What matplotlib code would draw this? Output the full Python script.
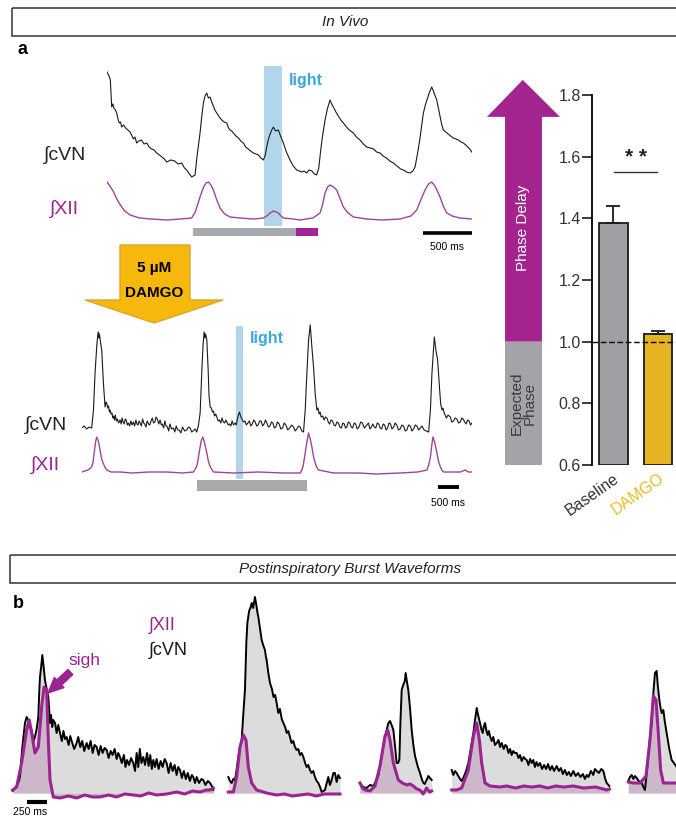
import numpy as np
import matplotlib
matplotlib.use("Agg")
import matplotlib.pyplot as plt
from matplotlib.patches import Rectangle, Polygon

plt.rcParams['font.family'] = ['Liberation Sans', 'DejaVu Sans']

# ---- panel a, baseline recording (t in ms, amplitude a.u.) ----
top_cvn = [(0,108),(20,104),(34,100),(40,88),(48,73),(60,76),(70,72),(85,70),(99,67),(112,61),(125,57),
           (137,58),(150,53),(170,55),(190,52),(212,50),(235,48),(250,45),(270,41),(285,43),(303,37),
           (325,39),(350,40),(378,36),(405,37),(430,33),(455,31),(480,30),(507,27),(535,25),(560,23),
           (585,21),(609,18),(650,20),(690,19),(725,16),(762,17),(790,12),(813,10),(840,6),(864,3),
           (880,4),(898,5),(920,25),(949,47),(965,62),(983,77),(1000,84),(1017,87),(1034,82),(1051,83),
           (1068,78),(1085,74),(1100,70),(1119,67),(1145,63),(1170,60),(1195,58),(1221,57),(1240,52),
           (1255,50),(1272,49),(1289,47),(1315,44),(1340,42),(1365,39),(1391,37),(1415,33),(1440,31),
           (1465,29),(1493,27),(1520,26),(1545,25),(1570,22),(1595,20),(1612,24),(1629,33),(1645,40),
           (1660,45),(1680,50),(1697,53),(1720,49),(1748,50),(1770,44),(1799,37),(1830,28),(1867,20),
           (1900,14),(1935,10),(1960,9),(1990,8),(2010,9),(2037,7),(2060,10),(2090,9),(2115,6),
           (2139,5),(2160,12),(2180,30),(2200,45),(2224,60),(2250,72),(2275,80),(2292,76),(2309,73),
           (2335,68),(2360,64),(2385,60),(2411,57),(2435,54),(2460,51),(2487,49),(2513,47),(2545,43),
           (2580,40),(2615,36),(2649,33),(2685,32),(2720,31),(2750,28),(2785,27),(2815,24),(2850,22),
           (2885,19),(2921,17),(2945,15),(2970,13),(2995,11),(3023,10),(3055,8),(3091,7),(3120,9),
           (3142,13),(3165,25),(3190,40),(3210,55),(3227,67),(3250,76),(3270,82),(3290,88),(3312,93),
           (3325,90),(3340,86),(3363,80),(3380,72),(3400,62),(3415,55),(3431,50),(3455,48),(3480,46),
           (3505,44),(3533,42),(3560,41),(3585,40),(3610,38),(3635,37),(3660,35),(3680,33),(3700,31),
           (3720,28)]
top_xii = [(0,38),(30,34),(68,28),(100,21),(136,15),(180,9),(235,5),(300,3),(337,2),(450,1),(609,0),
           (750,1),(864,2),(900,8),(949,23),(985,33),(1010,37),(1034,38),(1060,35),(1085,30),(1120,20),
           (1153,12),(1200,6),(1255,3),(1357,2),(1500,1),(1595,2),(1630,4),(1663,7),(1697,9),(1725,8),
           (1748,7),(1775,4),(1799,2),(1900,1),(1969,0),(2100,2),(2173,7),(2200,16),(2224,27),(2250,33),
           (2275,35),(2310,33),(2343,30),(2375,22),(2411,13),(2460,7),(2513,3),(2649,1),(2800,0),
           (2989,1),(3100,4),(3159,10),(3200,20),(3244,30),(3280,36),(3312,38),(3345,34),(3370,29),
           (3397,23),(3430,14),(3465,7),(3520,4),(3601,2),(3720,1)]
top_light = (1601, 1785)
top_stim = (877, 1928)
top_delay = (1928, 2152)

# ---- panel a, DAMGO recording ----
dam_cvn = [(0,2),(60,4),(120,1),(180,3),(238,2),(280,20),(318,57),(360,85),(380,94),(397,98),(410,92),
           (420,96),(440,90),(476,80),(500,60),(520,45),(556,23),(580,28),(600,26),(620,22),(640,24),
           (660,18),(675,20),(700,16),(720,17),(740,12),(760,14),(780,10),(800,15),(825,9),(850,11),
           (880,7),(913,10),(940,6),(960,12),(985,8),(1010,6),(1035,11),(1060,10),(1085,5),(1110,7),
           (1140,4),(1170,9),(1200,5),(1230,8),(1260,4),(1290,10),(1315,6),(1340,5),(1365,9),(1390,7),
           (1420,4),(1450,11),(1475,7),(1500,6),(1530,3),(1560,9),(1590,6),(1620,5),(1650,9),(1680,12),
           (1710,7),(1740,8),(1770,13),(1800,11),(1835,6),(1866,10),(1895,5),(1920,6),(1950,2),(1980,9),
           (2010,4),(2040,3),(2070,-1),(2100,6),(2140,1),(2184,2),(2215,-2),(2250,4),(2285,0),(2320,0),
           (2360,-3),(2400,3),(2450,-1),(2501,0),(2540,3),(2580,2),(2620,-2),(2650,-1),(2700,1),
           (2739,-2),(2780,5),(2819,17),(2860,60),(2890,86),(2914,98),(2935,92),(2950,96),(2978,90),
           (3010,60),(3030,35),(3057,23),(3085,22),(3110,18),(3135,19),(3160,14),(3190,16),(3216,13),
           (3250,9),(3280,10),(3310,7),(3340,12),(3370,8),(3400,7),(3430,10),(3454,8),(3490,5),(3520,6),
           (3550,4),(3580,9),(3615,5),(3652,7),(3680,5),(3700,10),(3730,15),(3756,18),(3780,14),
           (3800,12),(3825,10),(3851,8),(3885,9),(3920,5),(3955,7),(3990,9),(4025,4),(4060,6),
           (4095,10),(4130,8),(4165,4),(4200,5),(4235,9),(4270,9),(4305,4),(4340,6),(4375,10),(4407,7),
           (4445,3),(4480,4),(4515,8),(4550,7),(4585,2),(4620,3),(4660,8),(4700,6),(4740,1),(4780,2),
           (4820,7),(4860,5),(4905,0),(4950,2),(5000,5),(5042,3),(5080,-1),(5120,1),(5160,4),(5200,3),
           (5240,-1),(5280,-2),(5320,20),(5360,57),(5400,90),(5439,105),(5475,85),(5518,63),(5560,35),
           (5598,20),(5625,22),(5650,16),(5675,18),(5700,13),(5735,14),(5770,10),(5800,13),(5836,12),
           (5870,8),(5900,6),(5935,10),(5970,9),(6005,5),(6040,4),(6075,8),(6110,7),(6145,3),(6180,2),
           (6215,7),(6250,6),(6280,2),(6312,3),(6345,8),(6380,7),(6415,3),(6450,2),(6485,7),(6520,6),
           (6560,1),(6600,3),(6640,8),(6680,7),(6730,2),(6789,5),(6825,7),(6860,1),(6895,3),(6930,6),
           (6965,3),(7000,2),(7035,7),(7070,6),(7105,2),(7140,1),(7175,6),(7210,5),(7245,0),(7280,2),
           (7315,7),(7350,6),(7385,1),(7424,3),(7460,7),(7500,5),(7540,0),(7580,1),(7620,5),(7660,4),
           (7700,-1),(7740,0),(7780,5),(7820,4),(7860,-1),(7900,1),(7940,5),(7980,4),(8020,0),(8059,2),
           (8100,4),(8150,0),(8200,-1),(8258,-2),(8300,20),(8337,57),(8393,93),(8430,80),(8472,70),
           (8500,52),(8520,40),(8545,26),(8575,20),(8600,22),(8620,18),(8650,15),(8680,12),(8720,15),
           (8774,13),(8810,8),(8850,9),(8890,12),(8930,11),(8970,7),(9012,8),(9045,12),(9080,11),
           (9115,8),(9150,6),(9185,10),(9220,9),(9255,5),(9290,7)]
dam_xii = [(0,0),(150,2),(238,5),(270,10),(300,20),(330,30),(357,35),(380,33),(400,30),(437,22),
           (470,14),(500,10),(550,5),(596,2),(700,0),(913,0),(1200,-1),(1600,0),(2025,0),(2400,-1),
           (2660,0),(2730,5),(2760,10),(2790,18),(2819,25),(2850,32),(2882,35),(2920,30),(2978,19),
           (3010,12),(3050,6),(3090,3),(3137,0),(3613,-1),(4200,0),(4800,-1),(5201,-1),(5240,2),
           (5270,6),(5320,19),(5360,30),(5399,39),(5440,33),(5479,25),(5515,16),(5550,10),(5590,5),
           (5637,2),(5995,-1),(6600,-1),(7000,-2),(7583,-1),(8000,0),(8218,2),(8260,7),(8300,15),
           (8330,26),(8361,35),(8400,30),(8456,19),(8490,11),(8530,6),(8570,2),(8615,0),(9012,0),
           (9131,2),(9200,0),(9290,0)]
dam_light = (3672, 3839)
dam_stim = (2746, 5364)

# ---- phase bar chart ----
groups = ['Baseline', 'DAMGO']
phase_mean = [1.385, 1.025]
phase_sem = [0.055, 0.008]

# ---- panel b, postinspiratory burst waveforms ----
b_cvn = [
    [(0,2),(8,3),(42,6),(70,10),(92,16),(120,45),(154,70),(175,76),(196,73),(215,66),(238,63),(260,52),
     (279,56),(300,64),(321,76),(332,100),(342,116),(355,125),(371,138),(385,128),(404,113),(425,104),
     (446,96),(458,82),(467,70),(480,78),(495,66),(508,73),(530,70),(550,60),(570,68),(592,60),(615,52),
     (635,62),(655,54),(675,56),(700,48),(720,57),(745,50),(770,44),(800,50),(820,56),(845,46),(870,52),
     (895,42),(925,50),(950,44),(975,52),(1000,40),(1025,48),(1050,46),(1075,38),(1100,47),(1125,40),
     (1150,45),(1175,43),(1200,35),(1225,42),(1250,38),(1275,44),(1300,34),(1320,40),(1342,36),
     (1365,30),(1390,38),(1410,26),(1430,33),(1455,28),(1480,35),(1508,30),(1530,22),(1550,40),
     (1570,26),(1590,44),(1610,30),(1633,36),(1655,28),(1680,40),(1700,27),(1720,38),(1740,24),
     (1758,33),(1780,26),(1800,34),(1825,24),(1850,32),(1875,26),(1900,34),(1925,30),(1950,20),
     (1975,30),(2000,22),(2025,28),(2050,18),(2070,26),(2092,23),(2115,15),(2140,22),(2165,14),
     (2190,20),(2215,12),(2240,18),(2258,16),(2280,10),(2300,16),(2330,10),(2360,14),(2383,13),
     (2410,8),(2440,12),(2467,10),(2490,7),(2508,3)],
    [(0,16),(20,12),(42,10),(62,14),(83,13),(105,24),(125,36),(145,46),(167,53),(188,80),(208,103),
     (225,150),(238,170),(260,182),(280,186),(292,190),(310,185),(333,196),(350,188),(365,180),(375,176),
     (395,165),(417,153),(435,148),(458,143),(470,136),(479,133),(500,120),(521,110),(545,104),(565,96),
     (585,98),(604,90),(625,80),(645,84),(668,74),(688,70),(710,66),(730,60),(750,62),(771,56),(790,50),
     (812,52),(833,46),(854,43),(875,44),(896,38),(917,40),(938,36),(960,30),(980,26),(1000,28),
     (1021,23),(1040,20),(1062,22),(1083,16),(1105,12),(1125,10),(1146,6),(1167,1),(1188,2),(1208,3),
     (1230,10),(1250,16),(1270,8),(1292,13),(1313,20),(1333,20),(1354,11),(1375,18),(1396,15)],
    [(0,10),(40,6),(83,5),(125,8),(167,7),(200,12),(229,17),(260,32),(292,47),(313,56),(333,63),
     (355,70),(375,72),(395,68),(417,63),(440,45),(458,30),(475,30),(492,33),(505,70),(521,103),
     (540,108),(560,112),(571,120),(585,112),(604,103),(625,85),(646,63),(667,48),(688,37),(720,27),
     (750,20),(772,14),(792,10),(810,9),(825,12),(840,14),(854,17),(875,15),(896,13)],
    [(0,23),(20,18),(42,22),(62,20),(83,17),(105,14),(125,12),(150,16),(180,22),(208,30),(240,45),
     (271,60),(290,72),(313,85),(330,78),(354,70),(370,64),(388,60),(400,66),(417,70),(435,62),
     (450,58),(465,62),(479,57),(500,52),(520,56),(540,48),(563,50),(585,53),(605,46),(625,50),
     (650,44),(670,48),(688,47),(710,40),(730,44),(750,38),(770,42),(790,40),(813,40),(835,35),
     (855,38),(875,32),(900,36),(920,34),(938,33),(960,28),(980,34),(1000,30),(1020,33),(1040,26),
     (1060,31),(1080,27),(1104,30),(1130,24),(1155,28),(1180,24),(1205,29),(1230,23),(1255,27),
     (1280,22),(1313,27),(1340,22),(1365,25),(1390,19),(1415,23),(1440,18),(1465,21),(1490,17),
     (1521,22),(1550,17),(1580,20),(1610,16),(1640,19),(1665,14),(1688,18),(1710,16),(1740,22),
     (1770,18),(1790,24),(1813,22),(1840,20),(1870,24),(1896,22),(1920,14),(1938,10),(1971,7)],
    [(0,12),(20,16),(42,18),(62,14),(83,17),(104,15),(130,12),(167,10),(188,6),(208,3),(230,20),
     (250,37),(270,55),(292,70),(313,100),(333,120),(354,122),(370,106),(388,93),(405,84),(417,80),
     (438,83),(455,72),(479,60),(510,45),(542,33),(570,30),(596,27),(630,24)],
]
b_xii = [
    [(0,3),(50,6),(112,30),(175,63),(208,73),(238,60),(279,40),(321,46),(362,86),(392,106),(425,103),
     (446,53),(467,13),(508,-4),(592,-5),(700,-3),(800,-5),(900,-2),(1000,-4),(1092,-4),(1200,-2),
     (1300,-4),(1400,-1),(1508,-2),(1600,-3),(1700,0),(1800,-2),(1925,-1),(2050,1),(2150,-1),
     (2250,2),(2342,1),(2420,3),(2467,3),(2508,5)],
    [(0,1),(63,1),(104,16),(146,46),(188,58),(221,53),(250,26),(292,10),(354,3),(479,0),(600,-2),
     (700,-1),(800,-3),(896,-2),(1000,-1),(1100,-3),(1200,-1),(1313,-1),(1396,-1)],
    [(0,10),(30,5),(63,3),(125,2),(188,7),(250,27),(313,57),(346,63),(375,53),(417,30),(479,13),
     (530,10),(583,8),(625,9),(667,7),(710,4),(750,3),(790,-1),(833,5),(870,1),(896,2)],
    [(0,3),(63,3),(125,5),(208,23),(271,57),(313,70),(346,53),(375,30),(417,10),(479,7),(600,6),
     (688,7),(800,5),(900,7),(1000,6),(1104,7),(1200,5),(1300,7),(1400,6),(1521,7),(1650,5),
     (1800,6),(1938,3),(1971,4)],
    [(0,11),(60,10),(146,10),(221,17),(271,53),(313,97),(346,93),(375,60),(404,23),(438,10),(521,10),
     (596,10),(630,10)],
]
b_offsets = [158, 2854, 4500, 5646, 7854]

MAG = '#9b2590'
W, H = 676, 824
fig = plt.figure(figsize=(W / 100, H / 100), dpi=100)


def px_axes(x0, y0, x1, y1, **kw):
    return fig.add_axes([x0 / W, 1 - y1 / H, (x1 - x0) / W, (y1 - y0) / H], **kw)


# overlay in pixel units for headers and the DAMGO arrow
ov = px_axes(0, 0, W, H)
ov.set_xlim(0, W)
ov.set_ylim(H, 0)
ov.axis('off')
ov.add_patch(Rectangle((12, 8), 680, 28, fill=False, ec='#333333', lw=1.1))
ov.text(345, 22, 'In Vivo', style='italic', fontsize=11, ha='center', va='center', color='#222222')
ov.add_patch(Rectangle((10, 555), 680, 28, fill=False, ec='#333333', lw=1.1))
ov.text(350, 569, 'Postinspiratory Burst Waveforms', style='italic', fontsize=11,
        ha='center', va='center', color='#222222')
ov.text(18, 49, 'a', fontsize=13, fontweight='bold', va='center', ha='left')
ov.text(13, 604, 'b', fontsize=13, fontweight='bold', va='center', ha='left')
ov.add_patch(Polygon([(120, 245), (190, 245), (190, 300), (223, 300), (154, 323), (85, 300), (120, 300)],
                     closed=True, fc='#f6b80c', ec='#d9a62a', lw=1))
ov.text(154, 268, '5 µM', fontsize=11, fontweight='bold', ha='center', va='center')
ov.text(154, 293, 'DAMGO', fontsize=11, fontweight='bold', ha='center', va='center')
ov.text(44, 155, '∫cVN', fontsize=14, ha='left', va='center', color='#222222')
ov.text(50, 209, '∫XII', fontsize=14, ha='left', va='center', color=MAG)
ov.text(25, 425, '∫cVN', fontsize=14, ha='left', va='center', color='#222222')
ov.text(31, 465, '∫XII', fontsize=14, ha='left', va='center', color=MAG)

# ---- top traces (baseline) ----
ax1 = px_axes(107, 60, 472, 255)
ax1.set_xlim(0, 3723)
ax1.set_ylim(-35, 160)
ax1.axis('off')
t, a = np.array(top_cvn).T
ax1.plot(t, a + 40, color='#1a1a1a', lw=0.8, zorder=3)
t, a = np.array(top_xii).T
ax1.plot(t, a, color='#a0449a', lw=1.0, zorder=3)
ax1.add_patch(Rectangle((top_light[0], -6), top_light[1] - top_light[0], 160, fc='#b3d5ec', ec='none', zorder=1))
ax1.add_patch(Rectangle((top_stim[0], -16), top_stim[1] - top_stim[0], 8, fc='#a7a9ac', ec='none'))
ax1.add_patch(Rectangle((top_delay[0], -16), top_delay[1] - top_delay[0], 8, fc='#a3239b', ec='none'))
ax1.plot([3223, 3723], [-13.5, -13.5], color='black', lw=2.6, solid_capstyle='butt')
ax1.text(3473, -27, '500 ms', fontsize=7.5, ha='center', va='center')
ax1.text(1856, 140, 'light', fontsize=11.5, fontweight='bold', color='#3aa8dc', ha='left', va='center')

# ---- bottom traces (DAMGO) ----
ax2 = px_axes(81.7, 315, 472, 515)
ax2.set_xlim(0, 9290)
ax2.set_ylim(-43, 157)
ax2.axis('off')
t, a = np.array(dam_cvn).T
ax2.plot(t, a + 42, color='#1a1a1a', lw=0.8, zorder=3)
t, a = np.array(dam_xii).T
ax2.plot(t, a, color='#a0449a', lw=1.0, zorder=3)
ax2.add_patch(Rectangle((dam_light[0], -7), dam_light[1] - dam_light[0], 153, fc='#b3d5ec', ec='none', zorder=1))
ax2.add_patch(Rectangle((dam_stim[0], -19), dam_stim[1] - dam_stim[0], 11, fc='#a7a9ac', ec='none'))
ax2.plot([8480, 8980], [-14.5, -14.5], color='black', lw=2.8, solid_capstyle='butt')
ax2.text(8730, -31, '500 ms', fontsize=7.5, ha='center', va='center')
ax2.text(4006, 134, 'light', fontsize=11.5, fontweight='bold', color='#3aa8dc', ha='left', va='center')

# ---- phase bar chart ----
ax3 = px_axes(592, 95, 676, 465)
xpos = np.arange(len(groups))
ax3.bar(xpos, np.array(phase_mean) - 0.6, bottom=0.6, width=0.65,
        color=['#9e9fa3', '#e6b322'], edgecolor='#1a1a1a', lw=1.3, zorder=2)
ax3.errorbar(xpos, phase_mean, yerr=[[0, 0], phase_sem], fmt='none', ecolor='#1a1a1a',
             elinewidth=1.3, capsize=5, capthick=1.3, zorder=3)
ax3.axhline(1.0, color='black', ls='--', lw=1, dashes=(4, 2), zorder=4)
ax3.set_xlim(-0.483, 1.405)
ax3.set_ylim(0.6, 1.8)
ax3.set_yticks([0.6, 0.8, 1.0, 1.2, 1.4, 1.6, 1.8])
ax3.set_yticklabels(['0.6', '0.8', '1.0', '1.2', '1.4', '1.6', '1.8'], fontsize=11.5)
ax3.tick_params(axis='y', length=7, width=1.2, pad=1, colors='#1a1a1a', labelcolor='#333333')
ax3.set_xticks(xpos)
ax3.set_xticklabels(groups, fontsize=11.5, rotation=35, ha='right', rotation_mode='anchor')
ax3.tick_params(axis='x', length=0, pad=4)
ax3.get_xticklabels()[0].set_color('#333333')
ax3.get_xticklabels()[1].set_color('#ebbb25')
for s in ['top', 'right', 'bottom']:
    ax3.spines[s].set_visible(False)
ax3.spines['left'].set_linewidth(1.3)
ax3.patch.set_alpha(0)
ax3.plot([0.01, 0.98], [1.55, 1.55], color='#333333', lw=1, clip_on=False)
ax3.text(0.5, 1.565, '* *', fontsize=15, fontweight='bold', ha='center', va='bottom', clip_on=False,
         color='#222222')

# phase arrow sharing the bar chart's scale
ax4 = px_axes(487, 95, 560, 465, sharey=ax3)
ax4.set_xlim(0, 1)
ax4.axis('off')
ax4.add_patch(Rectangle((0.247, 0.6), 0.506, 0.4, fc='#a3a4a8', ec='none'))
ax4.add_patch(Polygon([(0.247, 1.0), (0.753, 1.0), (0.753, 1.729), (1, 1.729), (0.49, 1.849),
                       (0, 1.729), (0.247, 1.729)], closed=True, fc='#a3248f', ec='none', clip_on=False))
ax4.text(0.5, 1.37, 'Phase Delay', rotation=90, fontsize=11, color='white', ha='center', va='center')
ax4.text(0.5, 0.8, 'Expected\nPhase', rotation=90, fontsize=11, color='#3a3a3a',
         ha='center', va='center', linespacing=0.95)

# ---- panel b ----
ax5 = px_axes(0, 595, W, 815)
ax5.set_xlim(0, 8450)
ax5.set_ylim(-22, 198)
ax5.axis('off')
for off, cv, xi in zip(b_offsets, b_cvn, b_xii):
    tc, ac = np.array(cv).T
    tx, axi = np.array(xi).T
    ax5.fill_between(tc + off, ac, 0, color='#dcdcdc', lw=0, zorder=1)
    ax5.fill_between(tx + off, axi, 0, color='#cdb8ca', lw=0, zorder=2)
    ax5.plot(tc + off, ac, color='black', lw=1.4, zorder=3)
    ax5.plot(tx + off, axi, color=MAG, lw=2.2, zorder=4)
ax5.plot([337, 587], [-9, -9], color='black', lw=3, solid_capstyle='butt')
ax5.text(375, -19, '250 ms', fontsize=7.5, ha='center', va='center')
ax5.text(1860, 168, '∫XII', fontsize=13, color=MAG, ha='left', va='center')
ax5.text(1860, 143, '∫cVN', fontsize=13, color='#1a1a1a', ha='left', va='center')
ax5.text(860, 133, 'sigh', fontsize=12.5, color=MAG, ha='left', va='center')
ax5.annotate('', xy=(600, 100), xytext=(880, 121),
             arrowprops=dict(arrowstyle='simple,head_length=1.1,head_width=1.0,tail_width=0.5',
                             fc=MAG, ec=MAG, shrinkA=0, shrinkB=0, mutation_scale=10))

fig.savefig('out.png', dpi=100)
